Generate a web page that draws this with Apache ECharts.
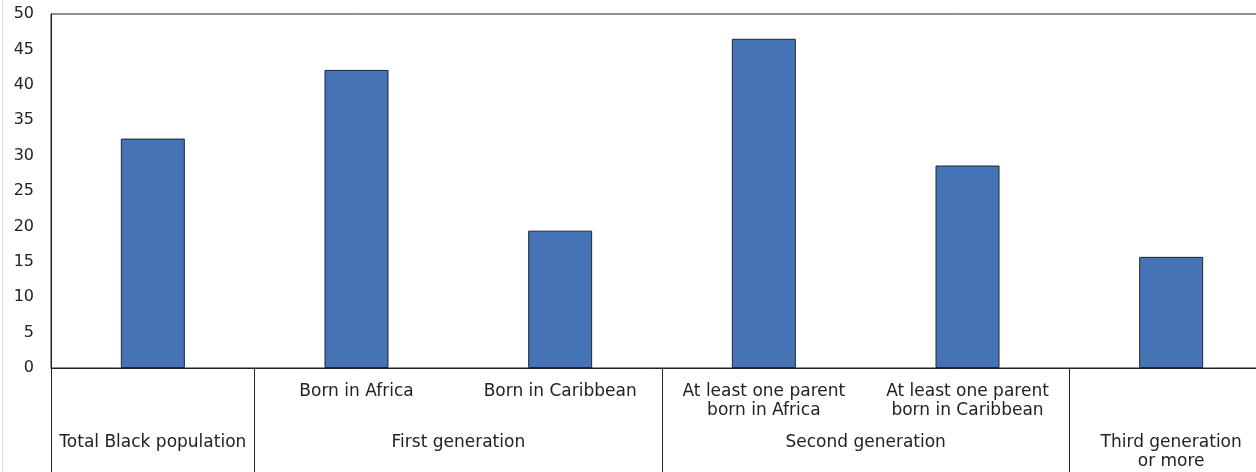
<!DOCTYPE html>
<html>
<head>
<meta charset="utf-8">
<script src="https://cdn.jsdelivr.net/npm/echarts@6/dist/echarts.min.js"></script>
<style>
  html, body { margin: 0; padding: 0; background: #fff; }
  #chart { width: 1256px; height: 472px; }
</style>
</head>
<body>
<div id="chart"></div>
<script>
// sub-category labels (first row under the axis)
const categories = [
  '',
  'Born in Africa',
  'Born in Caribbean',
  'At least one parent\nborn in Africa',
  'At least one parent\nborn in Caribbean',
  ''
];
const values = [32.4, 42.1, 19.4, 46.5, 28.6, 15.7];

// group labels (second row) and how many bars each one covers
const groupNames = ['Total Black population', 'First generation', 'Second generation', 'Third generation\nor more'];
const groupSpans = [1, 2, 2, 1];

// group centres and boundaries on a 0..n scale
const groupCenters = [];
const groupEdges = [0];
let acc = 0;
groupSpans.forEach(s => {
  groupCenters.push(acc + s / 2);
  acc += s;
  groupEdges.push(acc);
});

const chart = echarts.init(document.getElementById('chart'));
const textColor = '#222';
const font = 'DejaVu Sans, Verdana, sans-serif';

chart.setOption({
  animation: false,
  grid: {
    left: 51, top: 14, width: 1222, height: 354,
    outerBoundsMode: 'none',
    containLabel: false,
    show: true, borderColor: '#222', borderWidth: 1
  },
  graphic: [{
    type: 'line', shape: { x1: 2.5, y1: 0, x2: 2.5, y2: 472 },
    style: { stroke: '#dcdcdc', lineWidth: 1 }
  }],
  xAxis: [
    {
      type: 'category',
      data: categories,
      axisLine: { lineStyle: { color: '#222' } },
      axisTick: { show: false },
      axisLabel: {
        interval: 0, color: textColor, fontFamily: font, fontSize: 17,
        margin: 14, lineHeight: 19, verticalAlign: 'top'
      }
    },
    {
      type: 'value',
      position: 'bottom',
      min: 0, max: acc,
      axisLine: { show: false },
      splitLine: { show: false },
      axisTick: {
        show: true, customValues: groupEdges, length: 104,
        lineStyle: { color: '#222', width: 1 }
      },
      axisLabel: {
        customValues: groupCenters,
        formatter: v => groupNames[groupCenters.indexOf(v)] || '',
        color: textColor, fontFamily: font, fontSize: 17,
        margin: 65, lineHeight: 19, verticalAlign: 'top'
      }
    }
  ],
  yAxis: {
    type: 'value',
    min: 0, max: 50, interval: 5,
    axisLine: { show: true, lineStyle: { color: '#222' } },
    axisTick: { show: false },
    splitLine: { show: false },
    axisLabel: { color: textColor, fontFamily: font, fontSize: 16, margin: 17 }
  },
  series: [{
    type: 'bar',
    xAxisIndex: 0,
    data: values,
    barWidth: 64,
    itemStyle: { color: '#4573b5', borderColor: '#1d2638', borderWidth: 1 }
  }]
});
</script>
</body>
</html>
